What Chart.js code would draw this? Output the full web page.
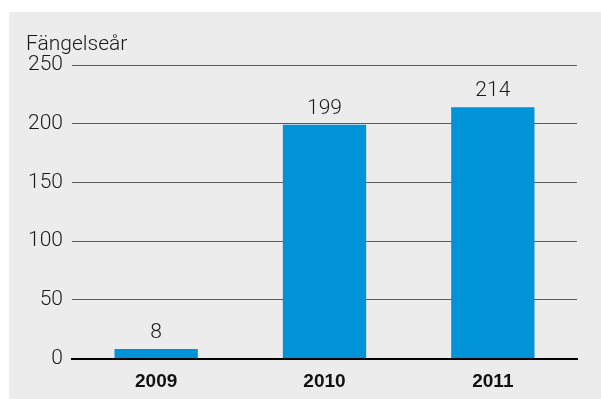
<!DOCTYPE html>
<html>
<head>
<meta charset="utf-8">
<script src="https://cdn.jsdelivr.net/npm/chart.js@4"></script>
<style>
  html, body { margin: 0; padding: 0; background: #fff; }
  #box { position: absolute; left: 9px; top: 12px; width: 592px; height: 387px; background: #ececec; }
</style>
</head>
<body>
<div id="box"><canvas id="prisonChart"></canvas></div>
<script>
// Fängelseår per år
const years = ['2009', '2010', '2011'];
const prisonYears = [8, 199, 214];
const yTicks = [0, 50, 100, 150, 200, 250];
const unitLabel = 'Fängelseår';

const FONT = "Roboto, 'Liberation Sans', Arial, sans-serif";
const BOLD_FONT = "'Liberation Sans', Arial, sans-serif";

// draws the unit text and the value above each bar
const extrasPlugin = {
    id: 'extras',
    afterDatasetsDraw(chart) {
        const ctx = chart.ctx;
        ctx.save();
        ctx.fillStyle = '#1a1a1a';
        ctx.font = '300 21px ' + FONT;
        ctx.textAlign = 'left';
        ctx.textBaseline = 'alphabetic';
        ctx.fillText(unitLabel, 17, 38);

        ctx.textAlign = 'center';
        chart.getDatasetMeta(0).data.forEach((bar, i) => {
            ctx.fillText(String(prisonYears[i]), bar.x, bar.y - 11);
        });
        ctx.restore();
    }
};

new Chart(document.getElementById('prisonChart'), {
    type: 'bar',
    data: {
        labels: years,
        datasets: [{
            data: prisonYears,
            backgroundColor: '#0093d8',
            borderWidth: 0,
            barPercentage: 0.495,
            categoryPercentage: 1
        }]
    },
    options: {
        responsive: true,
        maintainAspectRatio: false,
        animation: false,
        layout: { padding: { top: 53, right: 24, bottom: 0, left: 0 } },
        plugins: {
            legend: { display: false },
            tooltip: { enabled: false }
        },
        scales: {
            x: {
                grid: { display: false },
                border: { color: '#000', width: 2 },
                ticks: {
                    color: '#111',
                    padding: 4,
                    font: { family: BOLD_FONT, size: 19, weight: 'bold' }
                },
                afterFit(scale) { scale.height = 40.5; }
            },
            y: {
                min: 0,
                max: 250,
                border: { display: false },
                grid: { color: '#5a5a5a', lineWidth: 1, drawTicks: false },
                afterBuildTicks(scale) { scale.ticks = yTicks.map(v => ({ value: v })); },
                ticks: {
                    color: '#1a1a1a',
                    padding: 9,
                    font: { family: FONT, size: 21, weight: '300' }
                },
                afterFit(scale) { scale.width = 63; }
            }
        }
    },
    plugins: [extrasPlugin]
});
</script>
</body>
</html>
